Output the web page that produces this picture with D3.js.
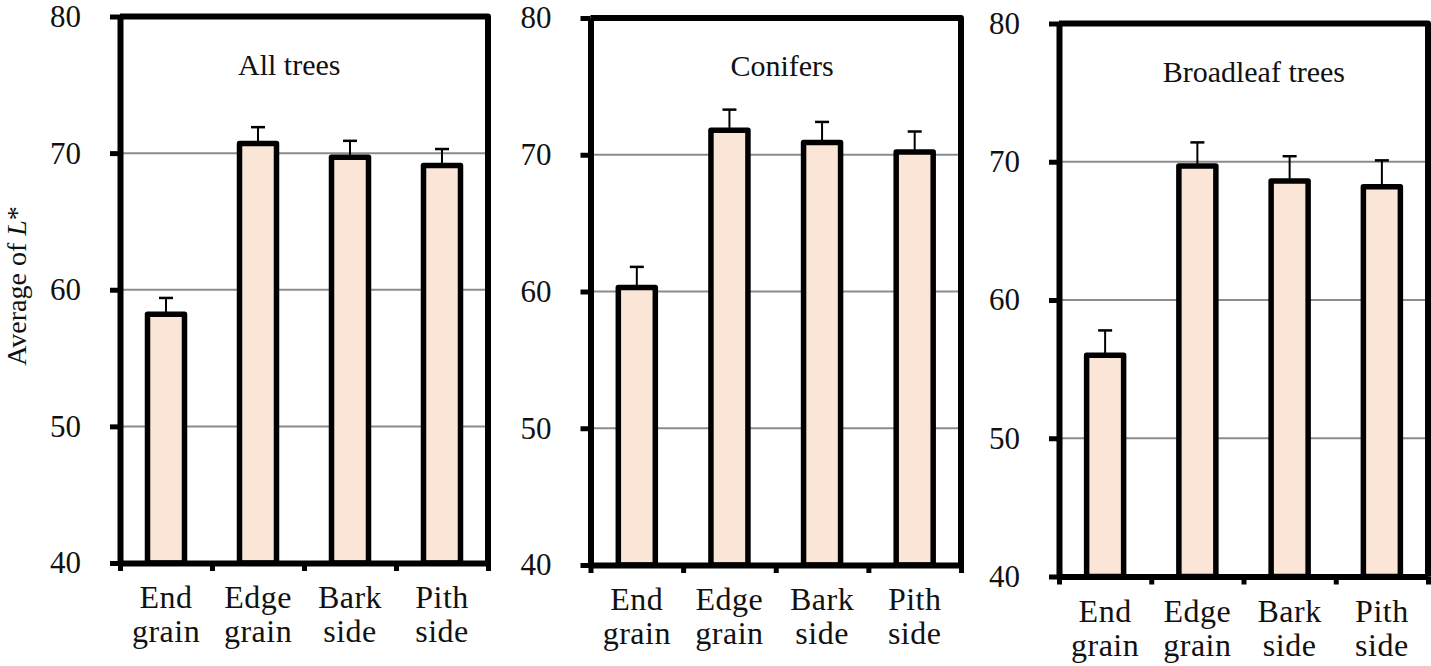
<!DOCTYPE html>
<html>
<head>
<meta charset="utf-8">
<script src="https://cdn.jsdelivr.net/npm/d3@7"></script>
<style>
  body { margin: 0; background: #fff; }
  svg { display: block; }
  text { font-family: "Liberation Serif", "Times New Roman", serif; fill: #111; }
</style>
</head>
<body>
<div id="chart"></div>
<script>
// data
var categories = [["End", "grain"], ["Edge", "grain"], ["Bark", "side"], ["Pith", "side"]];
var titles = ["All trees", "Conifers", "Broadleaf trees"];
var yTicks = [40, 50, 60, 70, 80];

var allTreesMean = [58.2, 70.7, 69.7, 69.1];
var allTreesErr = [1.2, 1.2, 1.2, 1.2];
var conifersMean = [60.3, 71.8, 70.9, 70.2];
var conifersErr = [1.5, 1.5, 1.5, 1.5];
var broadleafMean = [56.0, 69.7, 68.6, 68.2];
var broadleafErr = [1.8, 1.7, 1.8, 1.9];

var means = [allTreesMean, conifersMean, broadleafMean];
var errs = [allTreesErr, conifersErr, broadleafErr];

// panel boxes in pixels (plot area), and where the title sits
var layout = [
  {left: 120, right: 488, top: 16.5, bottom: 563, titleX: 0.46},
  {left: 590.5, right: 961, top: 18, bottom: 565, titleX: 0.517},
  {left: 1059, right: 1428, top: 23.5, bottom: 576.5, titleX: 0.528}
];

var width = 1431, height = 666;
var svg = d3.select('#chart').append('svg')
  .attr('width', width)
  .attr('height', height);

// y axis title
svg.append('text')
  .attr('transform', 'translate(26,286) rotate(-90)')
  .attr('text-anchor', 'middle')
  .style('font-size', '28px')
  .html('Average of <tspan font-style="italic">L</tspan>*');

layout.forEach(function(p, i) {
  var g = svg.append('g');
  var names = categories.map(function(c) { return c.join(' '); });

  var x = d3.scaleBand().domain(names).range([p.left, p.right]).paddingInner(0).paddingOuter(0);
  var xEdge = d3.scaleLinear().domain([0, names.length]).range([p.left, p.right]);
  var y = d3.scaleLinear().domain([40, 80]).range([p.bottom, p.top]);

  // gridlines
  g.append('g').selectAll('line')
    .data(yTicks.filter(function(t) { return t > 40 && t < 80; }))
    .join('line')
    .attr('x1', p.left).attr('x2', p.right)
    .attr('y1', function(d) { return y(d); })
    .attr('y2', function(d) { return y(d); })
    .attr('stroke', '#8c8c8c')
    .attr('stroke-width', 2);

  // top and right frame
  g.append('path')
    .attr('d', 'M' + p.left + ',' + p.top + 'H' + p.right + 'V' + p.bottom)
    .attr('fill', 'none')
    .attr('stroke', '#000')
    .attr('stroke-width', 6)
    .attr('stroke-linejoin', 'round');

  // bars
  var barW = 37;
  var rows = names.map(function(n, j) { return {name: n, v: means[i][j], e: errs[i][j]}; });
  g.append('g').selectAll('rect')
    .data(rows)
    .join('rect')
    .attr('x', function(d) { return x(d.name) + x.bandwidth() / 2 - barW / 2; })
    .attr('width', barW)
    .attr('y', function(d) { return y(d.v); })
    .attr('height', function(d) { return y(40) - y(d.v); })
    .attr('fill', '#fbe5d6')
    .attr('stroke', '#000')
    .attr('stroke-width', 5.5)
    .attr('stroke-linejoin', 'round');

  // error bars (upper only)
  var eb = g.append('g').selectAll('g')
    .data(rows)
    .join('g')
    .attr('transform', function(d) { return 'translate(' + (x(d.name) + x.bandwidth() / 2) + ',0)'; });
  eb.append('line')
    .attr('x1', 0).attr('x2', 0)
    .attr('y1', function(d) { return y(d.v); })
    .attr('y2', function(d) { return y(d.v + d.e); })
    .attr('stroke', '#000').attr('stroke-width', 2);
  eb.append('line')
    .attr('x1', -7).attr('x2', 7)
    .attr('y1', function(d) { return y(d.v + d.e); })
    .attr('y2', function(d) { return y(d.v + d.e); })
    .attr('stroke', '#000').attr('stroke-width', 2.5);

  // y axis
  var yAxis = g.append('g')
    .attr('transform', 'translate(' + p.left + ',0)')
    .call(d3.axisLeft(y).tickValues(yTicks).tickSizeInner(10).tickSizeOuter(0).tickPadding(29));
  yAxis.select('.domain').attr('stroke', '#000').attr('stroke-width', 6);
  yAxis.selectAll('.tick line').attr('stroke', '#000').attr('stroke-width', 5);
  yAxis.selectAll('.tick text')
    .style('font-size', '31px')
    .style('font-family', '"Liberation Serif", "Times New Roman", serif')
    .attr('fill', '#111');

  // x axis, ticks at category boundaries
  var xAxis = g.append('g')
    .attr('transform', 'translate(0,' + p.bottom + ')')
    .call(d3.axisBottom(xEdge).tickValues(d3.range(names.length + 1)).tickFormat('').tickSizeInner(8).tickSizeOuter(0));
  xAxis.select('.domain').attr('stroke', '#000').attr('stroke-width', 6);
  xAxis.selectAll('.tick line').attr('stroke', '#000').attr('stroke-width', 5);

  // two-line category labels
  var lab = g.append('g').selectAll('text')
    .data(categories)
    .join('text')
    .attr('text-anchor', 'middle')
    .style('font-size', '32px')
    .style('letter-spacing', '0.5px')
    .attr('x', function(d) { return x(d.join(' ')) + x.bandwidth() / 2; })
    .attr('y', p.bottom + 45);
  lab.append('tspan')
    .attr('x', function(d) { return x(d.join(' ')) + x.bandwidth() / 2; })
    .text(function(d) { return d[0]; });
  lab.append('tspan')
    .attr('x', function(d) { return x(d.join(' ')) + x.bandwidth() / 2; })
    .attr('dy', 34)
    .text(function(d) { return d[1]; });

  // panel title
  g.append('text')
    .attr('x', p.left + (p.right - p.left) * p.titleX)
    .attr('y', p.top + 58)
    .attr('text-anchor', 'middle')
    .style('font-size', '30px')
    .text(titles[i]);
});
</script>
</body>
</html>
